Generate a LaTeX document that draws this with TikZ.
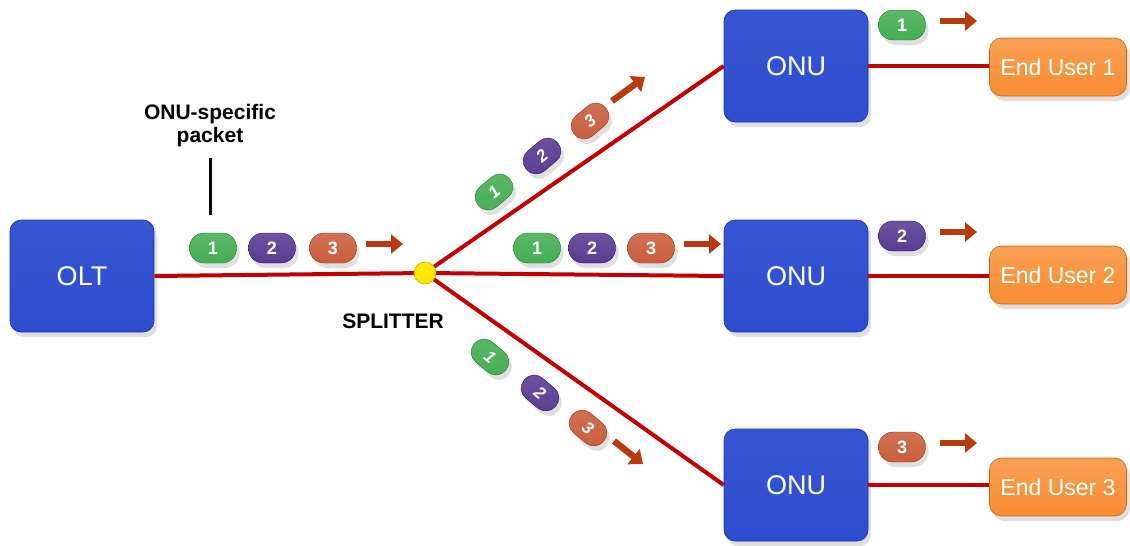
\documentclass[tikz,border=0pt]{standalone}
\usepackage{fontspec}
\setmainfont{Liberation Sans}
\usetikzlibrary{arrows.meta,shadows}
\definecolor{boxblue}{HTML}{1B3ECC}
\definecolor{userorange}{HTML}{F7801A}
\definecolor{linered}{HTML}{C00000}
\definecolor{arrowred}{HTML}{B83A10}
\definecolor{pgreen}{HTML}{24A035}
\definecolor{ppurple}{HTML}{3C1A80}
\definecolor{pred}{HTML}{C0421A}
\definecolor{splyellow}{HTML}{FFE800}
\tikzset{
  netbox/.style={rounded corners=11pt, minimum width=144pt, minimum height=112pt,
    top color=boxblue!88!white, middle color=boxblue, bottom color=boxblue!92!white,
    draw=boxblue!80!black, line width=0.6pt, text=white,
    font=\fontsize{27}{30}\selectfont,
    drop shadow={shadow xshift=3pt, shadow yshift=-5pt, opacity=0.25}},
  userbox/.style={rounded corners=12pt, minimum width=137pt, minimum height=58pt,
    top color=userorange!75!white, middle color=userorange, bottom color=userorange!90!white,
    draw=userorange!80!black, line width=0.6pt, text=white,
    font=\fontsize{23}{26}\selectfont,
    drop shadow={shadow xshift=3pt, shadow yshift=-5pt, opacity=0.25}},
  pill/.style={rounded corners=14.5pt, minimum width=47pt, minimum height=30pt,
    inner sep=0pt, text=white, font=\bfseries\fontsize{18}{20}\selectfont,
    draw=#1!75!black, line width=0.4pt,
    top color=#1!75!white, middle color=#1, bottom color=#1!85!white,
    drop shadow={shadow xshift=3pt, shadow yshift=-5pt, opacity=0.25}},
  dpill/.style={pill=#1, rounded corners=12.5pt, minimum width=41pt, minimum height=26pt,
    font=\bfseries\itshape\fontsize{17}{19}\selectfont},
  fiber/.style={line width=4pt, linered},
  flow/.style={line width=6.5pt, arrowred, -{Triangle[length=12pt,width=19pt]}},
}
\begin{document}
\begin{tikzpicture}[x=1pt,y=-1pt]
\useasboundingbox (0,0) rectangle (1130,546);
% boxes
\node[netbox] (olt) at (82,276) {OLT};
\node[netbox] (onu1) at (796,66) {ONU};
\node[netbox] (onu2) at (796,276) {ONU};
\node[netbox] (onu3) at (796,485) {ONU};
\node[userbox] (eu1) at (1058,67) {End User 1};
\node[userbox] (eu2) at (1058,275) {End User 2};
\node[userbox] (eu3) at (1058,487) {End User 3};
% splitter
\coordinate (spl) at (425,273);
% fibers
\draw[fiber] (olt.east) -- (spl);
\draw[fiber] (spl) -- (onu1.west);
\draw[fiber] (spl) -- (onu2.west);
\draw[fiber] (spl) -- (onu3.west);
\draw[fiber] (onu1.east) -- (onu1.east -| eu1.west);
\draw[fiber] (onu2.east) -- (onu2.east -| eu2.west);
\draw[fiber] (onu3.east) -- (onu3.east -| eu3.west);
\node[circle, minimum size=22pt, inner sep=0pt, fill=splyellow, draw=splyellow!75!black,
  line width=0.6pt] (splnode) at (spl) {};
\node[font=\bfseries\fontsize{21}{24}\selectfont] (spllabel) at (393,321) {SPLITTER};
% annotation
\node[font=\bfseries\fontsize{21}{23}\selectfont, align=center] (note) at (210,126) {ONU-specific\\packet};
\coordinate (notetop) at (210,158);
\coordinate (notetip) at (210,215);
\draw[line width=3pt] (notetop) -- (notetip);
% packets on OLT line
\node[pill=pgreen] (a1) at (213,248) {1};
\node[pill=ppurple] (a2) at (272,248) {2};
\node[pill=pred] (a3) at (333,248) {3};
\coordinate (aa1) at (366,244); \coordinate (aa2) at (403,244);
\draw[flow] (aa1) -- (aa2);
% middle branch packets
\node[pill=pgreen] (b1) at (537,248) {1};
\node[pill=ppurple] (b2) at (592,248) {2};
\node[pill=pred] (b3) at (651,248) {3};
\coordinate (ba1) at (684,244); \coordinate (ba2) at (721,244);
\draw[flow] (ba1) -- (ba2);
% upper branch packets
\node[dpill=pgreen, rotate=40] (c1) at (494,192) {1};
\node[dpill=ppurple, rotate=40] (c2) at (542,156) {2};
\node[dpill=pred, rotate=40] (c3) at (590,121) {3};
\coordinate (ca1) at (612,101); \coordinate (ca2) at (645,77);
\draw[flow] (ca1) -- (ca2);
% lower branch packets
\node[dpill=pgreen, rotate=-40] (d1) at (490,357) {1};
\node[dpill=ppurple, rotate=-40] (d2) at (540,393) {2};
\node[dpill=pred, rotate=-40] (d3) at (588,428) {3};
\coordinate (da1) at (614,441); \coordinate (da2) at (643,464);
\draw[flow] (da1) -- (da2);
% ONU output packets
\node[pill=pgreen] (e1) at (902,25) {1};
\coordinate (ea1) at (940,21); \coordinate (ea2) at (977,21);
\draw[flow] (ea1) -- (ea2);
\node[pill=ppurple] (e2) at (902,236) {2};
\coordinate (eb1) at (940,232); \coordinate (eb2) at (977,232);
\draw[flow] (eb1) -- (eb2);
\node[pill=pred] (e3) at (902,447) {3};
\coordinate (ec1) at (940,443); \coordinate (ec2) at (977,443);
\draw[flow] (ec1) -- (ec2);
\end{tikzpicture}
\end{document}
